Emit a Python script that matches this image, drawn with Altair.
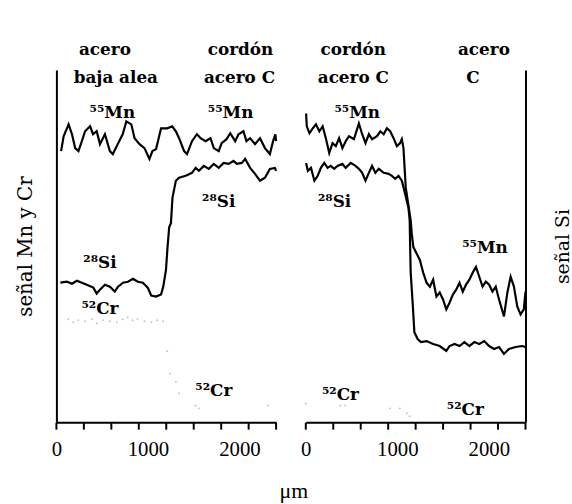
import altair as alt
import pandas as pd

# ---------------- data (x in µm, y = signal in arbitrary units) ----------------
# Left panel: acero baja alea | cordón acero C
L_MN_X = [51, 79, 133, 170, 205, 241, 278, 313, 368, 400, 440, 476, 530, 584, 616, 670, 724, 764, 818, 854,
          908, 962, 1016, 1049, 1089, 1143, 1211, 1265, 1305, 1340, 1395, 1427, 1481, 1535, 1575, 1629, 1683,
          1719, 1773, 1805, 1859, 1899, 1953, 1989, 2043, 2076, 2116, 2170, 2224, 2278, 2332, 2367, 2392, 2400]
L_MN_Y = [274, 289, 301, 291, 277, 274, 284, 294, 299, 291, 294, 281, 291, 274, 271, 281, 291, 304, 301, 287,
          281, 277, 266, 274, 276, 297, 297, 299, 294, 287, 274, 271, 284, 291, 287, 284, 287,
          277, 274, 282, 286, 292, 284, 291, 294, 284, 287, 281, 287, 277, 271, 284, 291, 284]
L_SI_X = [43, 116, 170, 224, 278, 332, 403, 440, 476, 530, 584, 638, 673, 728, 782, 836, 890, 944, 998, 1035,
          1089, 1143, 1167, 1197, 1214, 1232, 1251, 1268, 1305, 1340, 1413, 1481, 1521, 1557, 1611, 1665, 1719,
          1773, 1827, 1881, 1935, 1971, 2025, 2062, 2116, 2170, 2224, 2278, 2332, 2386, 2400]
L_SI_Y = [141, 142, 140, 143, 141, 139, 136, 130, 134, 139, 137, 132, 137, 141, 142, 145, 142, 141, 136, 128,
          127, 129, 137, 154, 177, 197, 201, 227, 244, 247, 249, 252, 257, 254, 259, 256, 261,
          257, 262, 261, 264, 261, 262, 266, 257, 251, 244, 247, 256, 257, 254]
L_CR_X = [130, 184, 238, 313, 389, 443, 508, 584, 659, 724, 778, 832, 886, 962, 1038, 1103, 1167,
          1211, 1240, 1305, 1340, 1521, 1557, 2313]
L_CR_Y = [104, 101, 103, 102, 104, 100, 103, 102, 101, 104, 106, 103, 104, 102, 101, 103, 102,
          72, 49, 41, 29, 17, 14, 17]

# Right panel: cordón acero C | acero C
R_MN_X = [3, 11, 40, 76, 111, 148, 184, 219, 256, 292, 328, 364, 400, 436, 472, 526, 580, 616, 652, 689,
          724, 778, 814, 851, 886, 922, 959, 995, 1030, 1049, 1067, 1092, 1146, 1157, 1175, 1246, 1283, 1319,
          1355, 1391, 1427, 1463, 1499, 1535, 1571, 1607, 1643, 1679, 1715, 1751, 1787, 1823, 1859, 1895,
          1931, 1967, 2003, 2039, 2075, 2111, 2165, 2202, 2238, 2274, 2310, 2346, 2382, 2400]
R_MN_Y = [312, 299, 292, 297, 301, 294, 299, 287, 272, 282, 279, 287, 277, 284, 289, 286, 302, 291, 282, 291,
          286, 289, 294, 291, 297, 294, 287, 279, 282, 286, 277, 237, 204, 191, 177, 164, 151, 141,
          137, 144, 127, 131, 124, 114, 121, 129, 134, 141, 132, 139, 144, 151, 157, 147,
          137, 142, 139, 132, 137, 124, 107, 131, 147, 137, 117, 109, 114, 132]
R_SI_X = [3, 22, 57, 94, 130, 165, 202, 238, 273, 310, 346, 400, 436, 490, 544, 580, 616, 652, 689, 724,
          760, 797, 851, 905, 940, 976, 1013, 1049, 1085, 1121, 1135, 1140, 1146, 1167, 1186, 1222, 1258,
          1319, 1391, 1463, 1535, 1571, 1625, 1679, 1733, 1787, 1841, 1895, 1949, 2003, 2057, 2111, 2165,
          2219, 2292, 2364, 2400]
R_SI_Y = [262, 254, 257, 244, 249, 257, 262, 257, 259, 256, 259, 261, 257, 262, 259, 256, 252, 244, 252, 259,
          252, 256, 252, 251, 249, 246, 249, 244, 231, 217, 204, 177, 151, 121, 91, 84, 81,
          82, 79, 77, 72, 77, 79, 77, 81, 77, 81, 79, 82, 77, 74, 76, 69,
          74, 76, 77, 76]
R_CR_X = [0, 378, 430, 919, 1027, 1103, 1135]
R_CR_Y = [19, 17, 17, 14, 14, 9, 6]

# annotation texts
L_LAB_T = ["⁵⁵Mn", "⁵⁵Mn", "²⁸Si", "²⁸Si", "⁵²Cr", "⁵²Cr"]
L_LAB_X = [611, 1903, 1773, 476, 476, 1719]
L_LAB_Y = [307, 307, 217, 156, 109, 26]
R_LAB_T = ["⁵⁵Mn", "²⁸Si", "⁵⁵Mn", "⁵²Cr", "⁵²Cr"]
R_LAB_X = [562, 314, 1957, 378, 1743]
R_LAB_Y = [307, 217, 171, 22, 7]

L_HDR_T = ["acero", "baja alea", "cordón", "acero C"]
L_HDR_X = [530, 649, 2011, 2000]
L_HDR_Y = [371, 343, 371, 343]
R_HDR_T = ["cordón", "acero C", "acero", "C"]
R_HDR_X = [519, 519, 1946, 1827]
R_HDR_Y = [371, 343, 371, 343]

TICK_VALUES = [0, 300, 600, 900, 1200, 1500, 1800, 2100, 2400]
LABEL_VALUES = [0, 1000, 2000]

SERIF = "DejaVu Serif"
TICKFONT = "Liberation Serif"

x_axis = alt.Axis(values=LABEL_VALUES, orient="bottom", format="d", title=None, grid=False,
                  ticks=False, domain=True, domainColor="black", domainWidth=2,
                  labelFont=TICKFONT, labelFontSize=21, labelColor="black", labelPadding=17,
                  labelOverlap=False, labelFlush=False)


def panel(mn_x, mn_y, si_x, si_y, cr_x, cr_y, lt, lx, ly, ht, hx, hy, yaxis):
    lines = pd.DataFrame({
        "x": mn_x + si_x, "y": mn_y + si_y,
        "s": ["Mn"] * len(mn_x) + ["Si"] * len(si_x),
    })
    cr = pd.DataFrame({"x": cr_x, "y": cr_y})
    labs = pd.DataFrame({"x": lx, "y": ly, "t": lt})
    hdrs = pd.DataFrame({"x": hx, "y": hy, "t": ht})
    ticks = pd.DataFrame({"x": TICK_VALUES})
    X = alt.X("x:Q", scale=alt.Scale(domain=[0, 2400], nice=False, zero=False), axis=x_axis)
    ysc = alt.Scale(domain=[0, 356], nice=False)
    Y = alt.Y("y:Q", scale=ysc, axis=yaxis)
    ln = alt.Chart(lines).mark_line(color="black", strokeWidth=2.2).encode(x=X, y=Y, detail="s:N")
    dots = alt.Chart(cr).mark_circle(color="#c4c4c4", size=4, opacity=1).encode(x=X, y=Y)
    lab = alt.Chart(labs).mark_text(font=SERIF, fontSize=17, fontWeight="bold", baseline="alphabetic",
                                    align="center", color="black").encode(x=X, y=Y, text="t:N")
    hdr = alt.Chart(hdrs).mark_text(font=SERIF, fontSize=17, fontWeight="bold", baseline="alphabetic",
                                    align="center", color="black").encode(x=X, y=Y, text="t:N")
    tk = alt.Chart(ticks).mark_tick(orient="vertical", size=7, thickness=2, color="black",
                                    opacity=1).encode(x=X, y=alt.YDatum(0, scale=ysc, axis=yaxis),
                                                      yOffset=alt.value(4))
    return alt.layer(ln, dots, lab, hdr, tk).properties(width=222, height=356)


left_y = alt.Axis(domain=True, ticks=False, labels=False, grid=False, domainColor="black", domainWidth=2,
                  title="señal Mn y Cr", titleFont=SERIF, titleFontSize=20, titleFontWeight="normal",
                  titleColor="black", titlePadding=21)
right_y = alt.Axis(orient="right", domain=True, ticks=False, labels=False, grid=False, domainColor="black",
                   domainWidth=2, title="señal Si", titleFont=SERIF, titleFontSize=19,
                   titleFontWeight="normal", titleColor="black", titleAngle=270, titleBaseline="top",
                   titlePadding=28)

left = panel(L_MN_X, L_MN_Y, L_SI_X, L_SI_Y, L_CR_X, L_CR_Y, L_LAB_T, L_LAB_X, L_LAB_Y,
             L_HDR_T, L_HDR_X, L_HDR_Y, left_y)
right = panel(R_MN_X, R_MN_Y, R_SI_X, R_SI_Y, R_CR_X, R_CR_Y, R_LAB_T, R_LAB_X, R_LAB_Y,
              R_HDR_T, R_HDR_X, R_HDR_Y, right_y)

chart = alt.hconcat(left, right, spacing=30, bounds="flush").properties(
    padding={"left": 16, "top": 38, "right": 0, "bottom": 0},
    title=alt.TitleParams("μm", orient="bottom", anchor="middle", font=TICKFONT, fontSize=22,
                          fontWeight="normal", color="black", offset=22),
    background="white",
).configure_view(stroke=None)

chart.save("out.html", embed_options={"renderer": "svg", "actions": False})
